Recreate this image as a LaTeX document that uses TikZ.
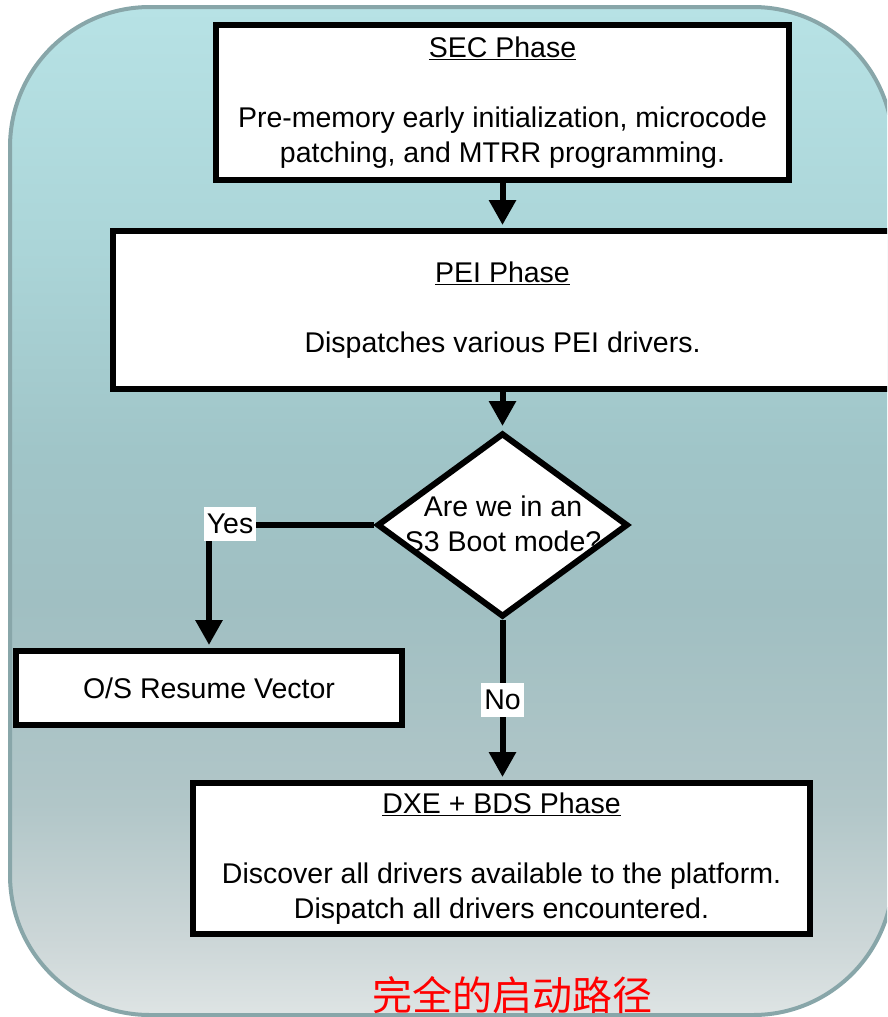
\documentclass[tikz,border=0pt]{standalone}
\usepackage{fontspec}
\setmainfont{Liberation Sans}
\newfontfamily\cjkfont{Noto Sans CJK SC}
\usetikzlibrary{arrows.meta,shapes.geometric}

\definecolor{panelrim}{HTML}{88A6A9}
\definecolor{shA}{HTML}{DEE4E4}
\definecolor{shB}{HTML}{CDD7D8}
\definecolor{shC}{HTML}{B1C6C8}
\definecolor{shD}{HTML}{A0BFC2}
\definecolor{shE}{HTML}{A0C5C8}
\definecolor{shF}{HTML}{ABD5D8}
\definecolor{shG}{HTML}{B7E2E5}
% the path is mapped onto the middle band 25bp..75bp of the shading (bottom to top)
\pgfdeclareverticalshading{panelshade}{100bp}{color(0bp)=(shA); color(25bp)=(shA); color(28.5bp)=(shB); color(35.5bp)=(shC); color(45.5bp)=(shD); color(53bp)=(shE); color(63bp)=(shF); color(75bp)=(shG); color(100bp)=(shG)}

\begin{document}
\begin{tikzpicture}[x=1pt,y=-1pt,
  txt/.style={font=\fontsize{28.5}{35}\selectfont},
  box/.style={txt, draw=black, line width=6pt, fill=white, rectangle, inner sep=0pt, align=center},
  decision/.style={draw=black, line width=6pt, fill=white, diamond, inner sep=0pt},
  conn/.style={line width=6pt, -{Triangle[width=26pt,length=25pt]}},
  tag/.style={txt, fill=white, inner xsep=3pt, inner ysep=0pt, minimum height=34pt}]

\path[use as bounding box] (0,0) rectangle (887,1017);
\clip (0,0) rectangle (887,1017);

% shaded panel behind the flow
\path[shading=panelshade, draw=panelrim, line width=4pt, rounded corners=140pt]
  (10,7) rectangle (893,1015);

% boxes
\node[box, minimum width=573pt, minimum height=155pt] (sec) at (502.5,102.5)
  {\underline{SEC Phase}\\[35pt]Pre-memory early initialization, microcode\\patching, and MTRR programming.};
\node[box, minimum width=779pt, minimum height=158pt] (pei) at (502.5,310)
  {\underline{PEI Phase}\\[35pt]Dispatches various PEI drivers.};
\node[decision, minimum width=251pt, minimum height=184pt] (dia) at (502.5,525) {};
\node[txt, align=center] (qtext) at (503,524) {Are we in an\\S3 Boot mode?};
\node[box, minimum width=386pt, minimum height=74pt] (os) at (209,688) {O/S Resume Vector};
\node[box, minimum width=617pt, minimum height=151pt] (dxe) at (501.5,858.5)
  {\underline{DXE + BDS Phase}\\[35pt]Discover all drivers available to the platform.\\Dispatch all drivers encountered.};

% connectors
\draw[conn, shorten >=3pt] (sec.south) -- (pei.north);
\draw[conn, shorten >=4pt] (pei.south) -- (dia.north);
\draw[conn, shorten >=3pt] (dia.west) -| (os.north);
\draw[conn, shorten >=3pt] (dia.south) -- (dia.south |- dxe.north);

% branch labels
\node[tag] (yes) at (230,524) {Yes};
\node[tag] (no) at (502.5,700) {No};

% caption
\node[text=red, font=\cjkfont\fontsize{40}{40}\selectfont] (cap) at (512,995) {完全的启动路径};
\end{tikzpicture}
\end{document}
